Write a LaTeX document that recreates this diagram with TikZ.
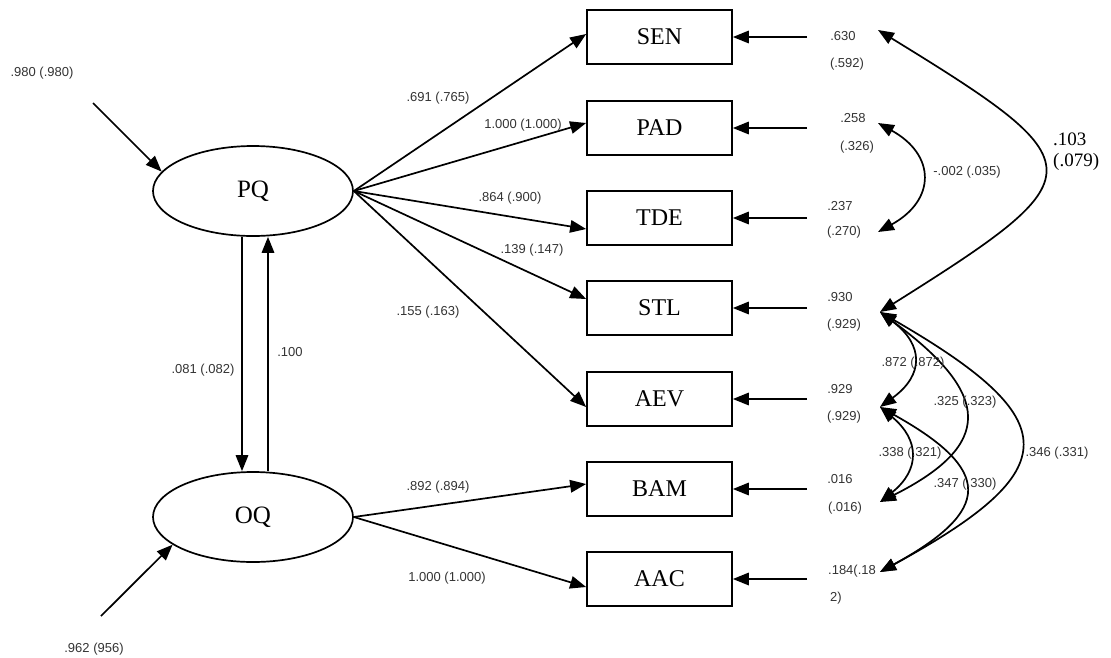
\documentclass[tikz,border=0pt]{standalone}
\usepackage{fontspec}
\setmainfont{Liberation Serif}
\newfontfamily\lblfont{Liberation Sans}
\usetikzlibrary{arrows.meta,shapes.geometric}
\begin{document}
\begin{tikzpicture}[x=1pt,y=-1pt,
 arr/.style={line width=1.7pt,-{Triangle[length=16pt,width=12.5pt]}},
 darr/.style={line width=1.7pt,{Triangle[length=16pt,width=12.5pt]}-{Triangle[length=16pt,width=12.5pt]}},
 obs/.style={draw,line width=1.7pt,minimum width=145pt,minimum height=54pt,inner sep=0pt,font=\fontsize{24}{26}\selectfont},
 lat/.style={draw,ellipse,line width=1.7pt,minimum width=200pt,minimum height=90pt,inner sep=0pt,font=\fontsize{25}{27}\selectfont},
 lbl/.style={font=\lblfont\fontsize{13}{15}\selectfont,text=black!80,inner sep=0pt},
 big/.style={font=\fontsize{19}{21}\selectfont,inner sep=0pt,align=left}
]
\useasboundingbox (0,0) rectangle (1111,657);

% latent variables
\node[lat] (PQ) at (253,191) {PQ};
\node[lat] (OQ) at (253,517) {OQ};

% observed variables
\node[obs] (SEN) at (659.5,37) {SEN};
\node[obs] (PAD) at (659.5,128) {PAD};
\node[obs] (TDE) at (659.5,218) {TDE};
\node[obs] (STL) at (659.5,308) {STL};
\node[obs] (AEV) at (659.5,399) {AEV};
\node[obs] (BAM) at (659.5,489) {BAM};
\node[obs] (AAC) at (659.5,579) {AAC};

% disturbances
\coordinate (dPQ) at (93,103);
\coordinate (dOQ) at (101,616);
\draw[arr] (dPQ) -- (PQ.168);
\draw[arr] (dOQ) -- (OQ.199);
\node[lbl] (l980) at (42,73) {.980 (.980)};
\node[lbl] (l962) at (94,649) {.962 (956)};

% reciprocal paths
\draw[arr] ([xshift=-11pt]PQ.south) -- ([xshift=-11pt]OQ.north);
\draw[arr] ([xshift=15pt]OQ.north) -- ([xshift=15pt]PQ.south);
\node[lbl] (l081) at (203,370) {.081 (.082)};
\node[lbl] (l100) at (290,352) {.100};

% loadings
\draw[arr] (PQ.east) -- ([yshift=3pt]SEN.west);
\draw[arr] (PQ.east) -- ([yshift=5pt]PAD.west);
\draw[arr] (PQ.east) -- ([yshift=-11pt]TDE.west);
\draw[arr] (PQ.east) -- ([yshift=9pt]STL.west);
\draw[arr] (PQ.east) -- ([yshift=-8pt]AEV.west);
\draw[arr] (OQ.east) -- ([yshift=5pt]BAM.west);
\draw[arr] (OQ.east) -- ([yshift=-8pt]AAC.west);
\node[lbl] (lSEN) at (438,98) {.691 (.765)};
\node[lbl] (lPAD) at (523,125) {1.000 (1.000)};
\node[lbl] (lTDE) at (510,198) {.864 (.900)};
\node[lbl] (lSTL) at (532,250) {.139 (.147)};
\node[lbl] (lAEV) at (428,312) {.155 (.163)};
\node[lbl] (lBAM) at (438,487) {.892 (.894)};
\node[lbl] (lAAC) at (447,578) {1.000 (1.000)};

% error terms
\foreach \v/\y in {SEN/37,PAD/128,TDE/218,STL/308,AEV/399,BAM/489,AAC/579}{
  \coordinate (e\v) at (807,\y);
  \draw[arr] (e\v) -- (\v);
}
\node[lbl] (eSEN1) at (843,36) {.630};
\node[lbl] (eSEN2) at (847,64) {(.592)};
\node[lbl] (ePAD1) at (853,118) {.258};
\node[lbl] (ePAD2) at (857,147) {(.326)};
\node[lbl] (eTDE1) at (840,206) {.237};
\node[lbl] (eTDE2) at (844,232) {(.270)};
\node[lbl] (eSTL1) at (840,297) {.930};
\node[lbl] (eSTL2) at (844,325) {(.929)};
\node[lbl] (eAEV1) at (840,389) {.929};
\node[lbl] (eAEV2) at (844,417) {(.929)};
\node[lbl] (eBAM1) at (840,479) {.016};
\node[lbl] (eBAM2) at (845,508) {(.016)};
\node[lbl] (eAAC1) at (852,571) {.184(.18};
\node[lbl] (eAAC2) at (836,598) {2)};

% covariance end points
\coordinate (cSEN) at (878,30);
\coordinate (cPAD) at (878,123);
\coordinate (cTDE) at (878,232);
\coordinate (cSTL) at (880,312);
\coordinate (cAEV) at (880,407);
\coordinate (cBAM) at (880,502);
\coordinate (cAAC) at (880,572);

\draw[darr] (cSEN) .. controls (1098,165) and (1098,175) .. (cSTL);
\draw[darr] (cPAD) .. controls (936,155) and (936,200) .. (cTDE);
\draw[darr] (cSTL) .. controls (924,345) and (924,375) .. (cAEV);
\draw[darr] (cSTL) .. controls (993,395) and (993,445) .. (cBAM);
\draw[darr] (cAEV) .. controls (920,440) and (920,470) .. (cBAM);
\draw[darr] (cAEV) .. controls (993,470) and (993,510) .. (cAAC);
\draw[darr] (cSTL) .. controls (1067,420) and (1067,470) .. (cAAC);

\node[big,anchor=west] (c103) at (1053,152) {.103\\(.079)};
\node[lbl] (c002) at (967,172) {-.002 (.035)};
\node[lbl] (c872) at (913,363) {.872 (.872)};
\node[lbl] (c325) at (965,402) {.325 (.323)};
\node[lbl] (c338) at (910,453) {.338 (.321)};
\node[lbl] (c347) at (965,484) {.347 (.330)};
\node[lbl] (c346) at (1057,453) {.346 (.331)};
\end{tikzpicture}
\end{document}
